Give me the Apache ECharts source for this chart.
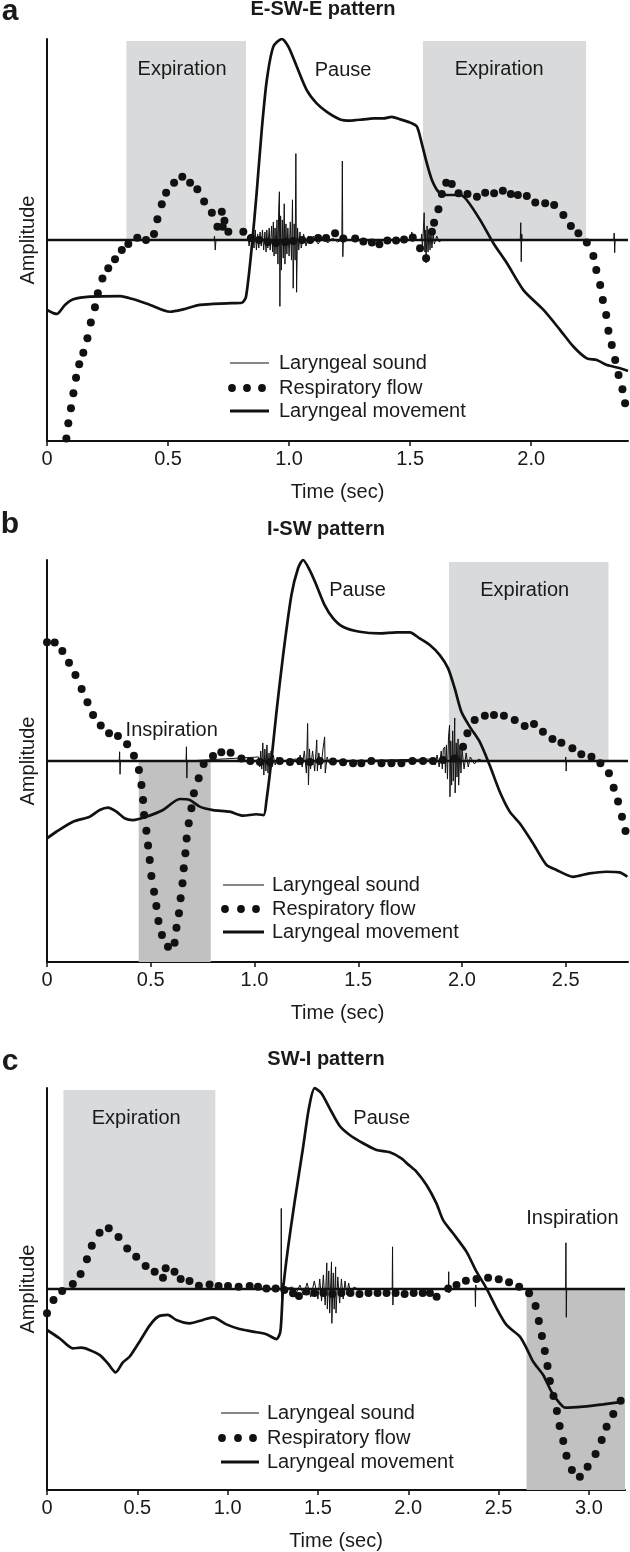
<!DOCTYPE html>
<html><head><meta charset="utf-8">
<script src="https://cdn.jsdelivr.net/npm/echarts@6/dist/echarts.min.js"></script>
<style>html,body{margin:0;padding:0;background:#fff}#c{width:630px;height:1552px}</style>
</head><body><div id="c"></div>
<script>
// ---------------- DATA ----------------
const titles = ['E-SW-E pattern', 'I-SW pattern', 'SW-I pattern'];
const letters = ['a', 'b', 'c'];
const legendLabels = ['Laryngeal sound', 'Respiratory flow', 'Laryngeal movement'];
const xName = 'Time (sec)';
const yName = 'Amplitude';

const ticksA = [0, 0.5, 1.0, 1.5, 2.0];
const tickLabelsA = ['0', '0.5', '1.0', '1.5', '2.0'];
const ticksB = [0, 0.5, 1.0, 1.5, 2.0, 2.5];
const tickLabelsB = ['0', '0.5', '1.0', '1.5', '2.0', '2.5'];
const ticksC = [0, 0.5, 1.0, 1.5, 2.0, 2.5, 3.0];
const tickLabelsC = ['0', '0.5', '1.0', '1.5', '2.0', '2.5', '3.0'];

// shaded phases [start, end] in seconds
const expA = [[0.328, 0.822], [1.553, 2.227]];
const inspA = [];
const expB = [[1.937, 2.706]];
const inspB = [[0.442, 0.789]];
const expC = [[0.091, 0.932]];
const inspC = [[2.655, 3.2]];

// phase annotations [t, amplitude, text]
const notesA = [[0.558, 0.846, 'Expiration'], [1.868, 0.846, 'Expiration'], [1.223, 0.841, 'Pause']];
const notesB = [[1.497, 0.846, 'Pause'], [2.302, 0.846, 'Expiration'], [0.601, 0.154, 'Inspiration']];
const notesC = [[0.494, 0.846, 'Expiration'], [1.853, 0.846, 'Pause'], [2.909, 0.353, 'Inspiration']];

// baseline of the sound trace
const baseA = [[0, 0], [2.4, 0]];
const baseB = [[0, 0], [2.8, 0]];
const baseC = [[0, 0], [3.2, 0]];

// laryngeal sound (spikes on the baseline)
const soundA = [[0,0],[0.690,0],[0.692,0.02],[0.695,-0.05],[0.698,0],
[0.825,0],[0.83,0.02],[0.835,-0.03],[0.84,0.03],[0.845,-0.02],[0.85,0.04],[0.855,-0.04],[0.86,0.05],[0.865,-0.05],[0.87,0.03],[0.875,-0.04],[0.88,0.04],[0.885,-0.03],[0.89,0.05],[0.895,-0.05],[0.90,0.04],[0.905,-0.06],[0.908,0.05],[0.912,-0.04],[0.918,0.06],[0.922,-0.05],[0.928,0.07],[0.932,-0.06],[0.935,0.09],[0.938,-0.08],[0.942,0.06],[0.946,-0.07],[0.95,0.10],[0.954,-0.12],[0.957,0.15],[0.960,0.24],[0.962,-0.33],[0.965,0.12],[0.968,-0.15],[0.972,0.10],[0.976,-0.09],[0.980,0.18],[0.983,-0.12],[0.987,0.08],[0.991,-0.07],[0.995,0.06],[1.0,-0.08],[1.005,0.09],[1.01,-0.10],[1.014,0.20],[1.017,-0.24],[1.021,0.08],[1.025,-0.10],[1.028,0.43],[1.031,-0.26],[1.035,0.06],[1.04,-0.05],[1.045,0.04],[1.05,-0.04],[1.06,0.03],[1.07,-0.03],[1.08,0.02],[1.09,-0.02],[1.10,0.02],[1.12,-0.02],[1.14,0.015],[1.16,-0.015],[1.18,0.01],[1.20,-0.01],[1.218,0],[1.220,0.393],[1.222,-0.083],[1.224,0],
[1.505,0],[1.507,0.04],[1.509,-0.01],[1.511,0],
[1.545,0],[1.548,0.03],[1.551,-0.04],[1.555,0.06],[1.558,0.136],[1.561,-0.06],[1.563,0.05],[1.566,-0.114],[1.57,0.07],[1.574,-0.06],[1.578,0.05],[1.582,-0.05],[1.586,0.04],[1.59,-0.04],[1.595,0.03],[1.60,-0.02],[1.61,0.02],[1.62,-0.01],[1.63,0],
[1.955,0],[1.957,0.086],[1.959,-0.108],[1.961,0.03],[1.963,0],
[2.341,0],[2.343,0.035],[2.345,-0.063],[2.347,0],[2.4,0]];

const soundB = [[0,0],[0.348,0],[0.350,0.046],[0.352,-0.066],[0.354,0],
[0.670,0],[0.672,0.071],[0.674,-0.085],[0.676,0],
[1.02,0.02],[1.025,-0.03],[1.03,0.05],[1.035,-0.04],[1.04,0.09],[1.045,-0.07],[1.05,0.06],[1.055,-0.05],[1.06,0.08],[1.065,-0.06],[1.07,0.04],[1.075,-0.05],[1.08,0.05],[1.085,-0.03],[1.09,0.03],[1.10,-0.02],[1.11,0.02],[1.12,-0.01],[1.13,0],
[1.20,0.01],[1.21,-0.02],[1.22,0.03],[1.23,-0.03],[1.24,0.05],[1.25,-0.06],[1.256,0.187],[1.26,-0.119],[1.265,0.06],[1.27,-0.04],[1.28,0.05],[1.29,-0.05],[1.30,0.105],[1.303,-0.05],[1.31,0.04],[1.32,-0.04],[1.33,0.06],[1.338,0.12],[1.341,-0.06],[1.35,0.02],[1.36,-0.01],[1.37,0],
[1.86,0.01],[1.87,-0.02],[1.88,0.03],[1.89,-0.03],[1.90,0.05],[1.905,-0.04],[1.91,0.06],[1.917,0.07],[1.92,-0.06],[1.925,0.08],[1.93,-0.09],[1.935,0.12],[1.94,0.179],[1.942,-0.178],[1.946,0.10],[1.95,-0.12],[1.955,0.15],[1.958,-0.10],[1.962,0.08],[1.965,0.214],[1.967,-0.159],[1.972,0.09],[1.976,-0.08],[1.981,0.11],[1.984,-0.12],[1.99,0.07],[1.995,-0.06],[2.0,0.06],[2.01,-0.04],[2.02,0.04],[2.03,-0.03],[2.04,0.02],[2.06,-0.015],[2.08,0.01],[2.10,0],
[2.498,0],[2.500,0.02],[2.502,-0.05],[2.504,0],[2.8,0]];

const soundC = [[0,0],[1.295,0],[1.297,0.401],[1.299,-0.080],[1.301,0.03],[1.305,-0.02],[1.31,0],
[1.36,0.01],[1.38,-0.02],[1.40,0.02],[1.42,-0.03],[1.44,0.03],[1.46,-0.04],[1.48,0.04],[1.50,-0.05],[1.51,0.05],[1.52,-0.06],[1.53,0.07],[1.54,-0.08],[1.549,0.13],[1.552,-0.10],[1.56,0.09],[1.565,-0.12],[1.575,0.135],[1.577,-0.171],[1.585,0.08],[1.59,-0.10],[1.598,0.11],[1.60,-0.12],[1.61,0.06],[1.62,-0.07],[1.63,0.05],[1.64,-0.05],[1.65,0.04],[1.66,-0.03],[1.67,0.03],[1.68,-0.02],[1.70,0.01],[1.72,0],
[1.911,0],[1.913,0.210],[1.915,-0.080],[1.917,0],
[2.222,0],[2.224,0.086],[2.226,-0.02],[2.228,0],
[2.370,0],[2.372,-0.088],[2.374,0.02],[2.376,0],
[2.871,0],[2.873,0.230],[2.875,-0.141],[2.877,0],[3.2,0]];

// laryngeal movement
const moveA = [[0.00,-0.348],[0.040,-0.368],[0.074,-0.323],[0.109,-0.295],[0.178,-0.282],[0.302,-0.279],[0.357,-0.295],[0.426,-0.323],[0.508,-0.357],[0.563,-0.345],[0.632,-0.323],[0.743,-0.315],[0.805,-0.312],[0.822,-0.282],[0.846,-0.033],[0.867,0.249],[0.887,0.547],[0.908,0.796],[0.935,0.962],[0.970,1.0],[0.997,0.962],[1.032,0.862],[1.073,0.746],[1.114,0.680],[1.156,0.638],[1.211,0.600],[1.252,0.594],[1.307,0.600],[1.348,0.605],[1.390,0.605],[1.424,0.613],[1.459,0.600],[1.500,0.584],[1.528,0.564],[1.548,0.481],[1.569,0.382],[1.590,0.299],[1.617,0.240],[1.645,0.224],[1.707,0.224],[1.734,0.199],[1.789,0.100],[1.844,-0.016],[1.900,-0.116],[1.968,-0.249],[2.051,-0.348],[2.120,-0.448],[2.175,-0.531],[2.230,-0.589],[2.271,-0.597],[2.313,-0.622],[2.368,-0.638],[2.400,-0.652]];
const moveB = [[0.0,-0.385],[0.045,-0.352],[0.125,-0.302],[0.206,-0.277],[0.254,-0.244],[0.294,-0.232],[0.334,-0.252],[0.374,-0.285],[0.414,-0.294],[0.479,-0.277],[0.559,-0.244],[0.640,-0.189],[0.688,-0.194],[0.736,-0.227],[0.800,-0.244],[0.880,-0.252],[0.945,-0.272],[1.009,-0.265],[1.044,-0.269],[1.057,-0.202],[1.081,0.0],[1.106,0.245],[1.138,0.527],[1.178,0.826],[1.210,0.959],[1.234,1.0],[1.266,0.950],[1.298,0.876],[1.338,0.776],[1.379,0.710],[1.426,0.668],[1.507,0.643],[1.603,0.635],[1.684,0.640],[1.748,0.640],[1.796,0.610],[1.845,0.577],[1.893,0.527],[1.933,0.461],[1.965,0.361],[1.997,0.245],[2.037,0.171],[2.085,0.096],[2.133,-0.020],[2.182,-0.153],[2.230,-0.252],[2.278,-0.310],[2.342,-0.409],[2.407,-0.517],[2.455,-0.542],[2.535,-0.576],[2.615,-0.559],[2.696,-0.551],[2.760,-0.554],[2.797,-0.576]];
const moveC = [[0.0,-0.204],[0.069,-0.245],[0.143,-0.295],[0.189,-0.292],[0.235,-0.303],[0.291,-0.328],[0.337,-0.370],[0.380,-0.415],[0.420,-0.365],[0.457,-0.337],[0.512,-0.262],[0.568,-0.182],[0.614,-0.138],[0.669,-0.129],[0.716,-0.154],[0.789,-0.171],[0.863,-0.154],[0.919,-0.141],[0.993,-0.176],[1.066,-0.199],[1.140,-0.212],[1.214,-0.225],[1.270,-0.249],[1.292,-0.212],[1.306,-0.013],[1.334,0.202],[1.371,0.434],[1.417,0.700],[1.450,0.899],[1.482,0.999],[1.519,0.974],[1.565,0.899],[1.620,0.812],[1.676,0.766],[1.750,0.725],[1.824,0.692],[1.898,0.680],[1.962,0.650],[1.999,0.620],[2.045,0.584],[2.101,0.517],[2.156,0.426],[2.193,0.343],[2.248,0.277],[2.322,0.186],[2.378,0.086],[2.433,0.003],[2.489,-0.096],[2.544,-0.179],[2.618,-0.237],[2.655,-0.295],[2.692,-0.362],[2.747,-0.428],[2.793,-0.511],[2.839,-0.569],[2.867,-0.590],[2.968,-0.585],[3.079,-0.574],[3.190,-0.561]];

// respiratory flow (dots)
const flowA = [[0.080,-0.987],[0.088,-0.912],[0.099,-0.837],[0.109,-0.763],[0.120,-0.685],[0.133,-0.618],[0.150,-0.561],[0.167,-0.489],[0.181,-0.411],[0.198,-0.335],[0.210,-0.265],[0.229,-0.191],[0.253,-0.141],[0.281,-0.096],[0.309,-0.050],[0.336,-0.020],[0.373,0.011],[0.409,0.0],[0.442,0.030],[0.456,0.103],[0.474,0.178],[0.492,0.235],[0.525,0.285],[0.559,0.315],[0.591,0.285],[0.621,0.252],[0.649,0.191],[0.681,0.136],[0.722,0.141],[0.733,0.096],[0.704,0.066],[0.726,0.066],[0.749,0.041],[0.811,0.041],[0.843,0.01],[0.876,0.0],[0.913,-0.01],[0.946,-0.015],[0.983,-0.01],[1.017,-0.005],[1.054,0],[1.087,0],[1.120,0.01],[1.153,0.01],[1.190,0.033],[1.224,0.008],[1.273,0.008],[1.307,-0.008],[1.342,-0.013],[1.373,-0.021],[1.406,-0.003],[1.442,-0.003],[1.475,0.003],[1.511,0.013],[1.541,-0.041],[1.566,-0.091],[1.590,0.041],[1.599,0.086],[1.617,0.153],[1.631,0.229],[1.649,0.285],[1.672,0.279],[1.700,0.232],[1.737,0.229],[1.776,0.215],[1.810,0.235],[1.847,0.232],[1.883,0.245],[1.916,0.229],[1.945,0.224],[1.982,0.219],[2.017,0.186],[2.058,0.183],[2.095,0.174],[2.133,0.124],[2.164,0.070],[2.195,0.033],[2.230,-0.013],[2.257,-0.080],[2.269,-0.149],[2.285,-0.224],[2.296,-0.299],[2.310,-0.373],[2.319,-0.451],[2.333,-0.522],[2.347,-0.597],[2.361,-0.672],[2.377,-0.743],[2.388,-0.812]];
const flowB = [[0.0,0.591],[0.037,0.589],[0.074,0.547],[0.106,0.489],[0.137,0.428],[0.167,0.358],[0.195,0.292],[0.222,0.229],[0.259,0.176],[0.299,0.138],[0.342,0.124],[0.386,0.083],[0.419,0.026],[0.443,-0.045],[0.455,-0.119],[0.463,-0.194],[0.468,-0.269],[0.479,-0.347],[0.487,-0.421],[0.495,-0.493],[0.503,-0.572],[0.516,-0.650],[0.527,-0.721],[0.537,-0.796],[0.554,-0.866],[0.583,-0.924],[0.615,-0.904],[0.624,-0.829],[0.636,-0.758],[0.644,-0.683],[0.653,-0.608],[0.659,-0.534],[0.667,-0.459],[0.673,-0.385],[0.683,-0.310],[0.696,-0.235],[0.708,-0.161],[0.731,-0.086],[0.755,-0.015],[0.800,0.025],[0.840,0.043],[0.885,0.041],[0.937,0.013],[0.980,0.0],[1.026,-0.005],[1.074,-0.005],[1.122,0],[1.171,-0.005],[1.219,0],[1.267,-0.005],[1.315,0],[1.378,-0.003],[1.427,-0.006],[1.475,-0.011],[1.515,-0.011],[1.563,0],[1.612,-0.011],[1.660,-0.011],[1.708,-0.011],[1.761,0],[1.812,0],[1.860,0],[1.908,0.005],[1.965,0.013],[2.005,0.071],[2.026,0.138],[2.061,0.204],[2.110,0.225],[2.154,0.229],[2.202,0.225],[2.254,0.204],[2.302,0.174],[2.347,0.184],[2.390,0.146],[2.436,0.109],[2.479,0.091],[2.532,0.063],[2.575,0.033],[2.624,0.021],[2.667,-0.011],[2.708,-0.061],[2.731,-0.133],[2.752,-0.202],[2.771,-0.277],[2.788,-0.348]];
const flowC = [[0.0,-0.121],[0.036,-0.055],[0.084,-0.010],[0.143,0.025],[0.186,0.075],[0.221,0.148],[0.248,0.215],[0.291,0.280],[0.342,0.302],[0.396,0.259],[0.444,0.202],[0.494,0.161],[0.546,0.114],[0.596,0.086],[0.642,0.056],[0.657,0.103],[0.706,0.086],[0.740,0.050],[0.789,0.040],[0.841,0.016],[0.900,0.023],[0.950,0.015],[1.002,0.015],[1.061,0.011],[1.122,0.015],[1.168,0.011],[1.215,0.003],[1.266,0.003],[1.314,-0.005],[1.362,-0.021],[1.395,-0.035],[1.436,-0.013],[1.48,-0.02],[1.53,-0.02],[1.58,-0.025],[1.63,-0.02],[1.68,-0.02],[1.73,-0.025],[1.78,-0.02],[1.83,-0.02],[1.88,-0.02],[1.93,-0.02],[1.98,-0.025],[2.03,-0.02],[2.08,-0.02],[2.12,-0.02],[2.157,-0.038],[2.221,0.003],[2.267,0.020],[2.319,0.041],[2.378,0.050],[2.442,0.056],[2.501,0.048],[2.558,0.033],[2.614,0.011],[2.669,-0.021],[2.705,-0.085],[2.723,-0.159],[2.740,-0.234],[2.756,-0.308],[2.771,-0.383],[2.784,-0.458],[2.804,-0.532],[2.823,-0.607],[2.838,-0.682],[2.858,-0.756],[2.876,-0.829],[2.906,-0.900],[2.950,-0.934],[2.993,-0.884],[3.037,-0.821],[3.071,-0.751],[3.098,-0.685],[3.135,-0.622],[3.176,-0.556]];

// ---------------- LAYOUT / STYLE ----------------
const FONT = '"Liberation Sans", Arial, Helvetica, sans-serif';
const INK = '#111111';
const TXT = '#1a1a1a';
const LIGHT = '#d9dadb';
const DARK = '#c2c1c2';

const panels = [
  {xMax: 2.4, ticks: ticksA, labels: tickLabelsA, base: baseA, sound: soundA, move: moveA, flow: flowA, light: expA, dark: inspA, notes: notesA,
   grid: {left: 47, top: 39, width: 581, height: 402}, title: [323, 9], letter: [10, 12],
   leg: {x1: 230, x2: 269, tx: 279, rows: [363, 388, 411], dots: [232, 247, 262]}},
  {xMax: 2.8, ticks: ticksB, labels: tickLabelsB, base: baseB, sound: soundB, move: moveB, flow: flowB, light: expB, dark: inspB, notes: notesB,
   grid: {left: 47, top: 560, width: 581, height: 402}, title: [326, 529], letter: [10, 525],
   leg: {x1: 223, x2: 264, tx: 272, rows: [885, 909, 932], dots: [225, 241, 256]}},
  {xMax: 3.2, ticks: ticksC, labels: tickLabelsC, base: baseC, sound: soundC, move: moveC, flow: flowC, light: expC, dark: inspC, notes: notesC,
   grid: {left: 47, top: 1088, width: 578, height: 402}, title: [326, 1059], letter: [10, 1062],
   leg: {x1: 221, x2: 259, tx: 267, rows: [1413, 1438, 1462], dots: [222, 238, 253]}}
];

const grids = [], xAxes = [], yAxes = [], series = [], graphics = [];

panels.forEach((p, i) => {
  grids.push(Object.assign({containLabel: false}, p.grid));
  xAxes.push({
    type: 'value', gridIndex: i, min: 0, max: p.xMax,
    name: xName, nameLocation: 'middle', nameGap: 41,
    nameTextStyle: {fontFamily: FONT, fontSize: 20, color: TXT},
    axisLine: {show: true, onZero: false, lineStyle: {color: INK, width: 2}},
    axisTick: {show: true, inside: false, length: 5, customValues: p.ticks, lineStyle: {color: INK, width: 1.5}},
    axisLabel: {show: true, margin: 8, customValues: p.ticks, fontFamily: FONT, fontSize: 20, color: TXT,
      formatter: v => { const k = p.ticks.findIndex(t => Math.abs(t - v) < 1e-6); return k >= 0 ? p.labels[k] : ''; }},
    splitLine: {show: false}
  });
  yAxes.push({
    type: 'value', gridIndex: i, min: -1, max: 1,
    name: yName, nameLocation: 'middle', nameGap: 9,
    nameTextStyle: {fontFamily: FONT, fontSize: 20, color: TXT},
    axisLine: {show: true, onZero: false, lineStyle: {color: INK, width: 2}},
    axisTick: {show: false}, axisLabel: {show: false}, splitLine: {show: false}
  });

  const areas = [];
  p.light.forEach(r => areas.push([{xAxis: r[0], yAxis: 0, itemStyle: {color: LIGHT, opacity: 1}}, {xAxis: r[1], yAxis: 0.99}]));
  p.dark.forEach(r => areas.push([{xAxis: r[0], yAxis: -1, itemStyle: {color: DARK, opacity: 1}}, {xAxis: r[1], yAxis: 0}]));

  series.push({
    type: 'line', xAxisIndex: i, yAxisIndex: i, data: [], z: 1, silent: true,
    markArea: {silent: true, itemStyle: {opacity: 1}, data: areas}
  });
  series.push({
    name: legendLabels[0], type: 'line', xAxisIndex: i, yAxisIndex: i, data: p.base, z: 3,
    symbol: 'none', silent: true, lineStyle: {color: INK, width: 2.6, opacity: 1}
  });
  series.push({
    name: legendLabels[0], type: 'line', xAxisIndex: i, yAxisIndex: i, data: p.sound, z: 3,
    symbol: 'none', silent: true, lineStyle: {color: INK, width: 1, opacity: 1}
  });
  series.push({
    name: legendLabels[2], type: 'line', xAxisIndex: i, yAxisIndex: i, data: p.move, z: 4,
    symbol: 'none', smooth: 0.25, silent: true, lineStyle: {color: INK, width: 2.7, opacity: 1}
  });
  series.push({
    name: legendLabels[1], type: 'scatter', xAxisIndex: i, yAxisIndex: i, data: p.flow, z: 5,
    symbol: 'circle', symbolSize: 8, silent: true, itemStyle: {color: INK, opacity: 1}
  });
  series.push({
    type: 'scatter', xAxisIndex: i, yAxisIndex: i, data: p.notes, z: 6, symbolSize: 0, silent: true,
    itemStyle: {opacity: 1},
    label: {show: true, position: 'inside', formatter: d => d.data[2], fontFamily: FONT, fontSize: 20, color: TXT, opacity: 1}
  });

  // titles and panel letters
  graphics.push({type: 'text', x: p.title[0], y: p.title[1], style: {text: titles[i], font: 'bold 20px ' + FONT, fill: TXT, textAlign: 'center', textVerticalAlign: 'middle'}});
  graphics.push({type: 'text', x: p.letter[0], y: p.letter[1], style: {text: letters[i], font: 'bold 30px ' + FONT, fill: TXT, textAlign: 'center', textVerticalAlign: 'middle'}});

  // legend
  const L = p.leg;
  graphics.push({type: 'line', shape: {x1: L.x1, y1: L.rows[0], x2: L.x2, y2: L.rows[0]}, style: {stroke: INK, lineWidth: 1.2}});
  L.dots.forEach(cx => graphics.push({type: 'circle', shape: {cx: cx, cy: L.rows[1], r: 3.9}, style: {fill: INK}}));
  graphics.push({type: 'line', shape: {x1: L.x1, y1: L.rows[2], x2: L.x2, y2: L.rows[2]}, style: {stroke: INK, lineWidth: 3}});
  legendLabels.forEach((t, k) => graphics.push({type: 'text', x: L.tx, y: L.rows[k], style: {text: t, font: '20px ' + FONT, fill: TXT, textAlign: 'left', textVerticalAlign: 'middle'}}));
});

const chart = echarts.init(document.getElementById('c'), null, {renderer: 'canvas'});
chart.setOption({
  backgroundColor: '#ffffff',
  animation: false,
  grid: grids, xAxis: xAxes, yAxis: yAxes, series: series, graphic: graphics
});
</script></body></html>
